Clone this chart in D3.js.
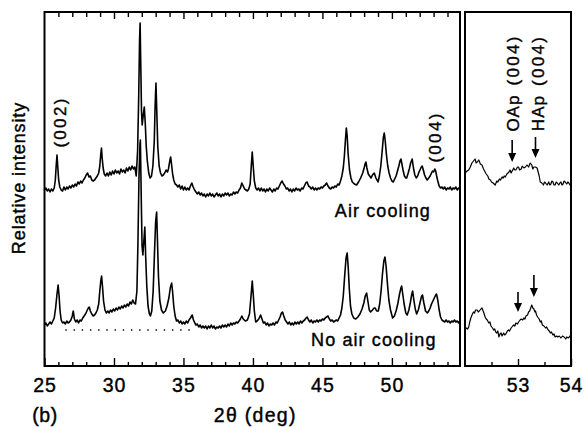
<!DOCTYPE html>
<html>
<head>
<meta charset="utf-8">
<script src="https://cdn.jsdelivr.net/npm/d3@7"></script>
<style>
  html, body { margin: 0; padding: 0; background: #fff; }
  svg { display: block; font-family: "Liberation Sans", Arial, Helvetica, sans-serif; }
  svg text { stroke: #000; stroke-width: 0.4px; paint-order: stroke; }
</style>
</head>
<body>
<svg id="chart" width="586" height="427"></svg>
<script>
// ---------- DATA (2θ in degrees, relative intensity in arbitrary units) ----------
const airCooling = [
[25.0,176],[25.1,178],[25.2,175],[25.3,177],[25.4,174],[25.5,177],[25.6,175],[25.7,178],[25.78,186],[25.84,200],[25.9,211],[25.96,198],[26.02,186],[26.1,179],[26.2,176],
[26.3,175],[26.4,179],[26.5,176],[26.6,179],[26.7,177],[26.8,180],[26.9,178],[27.0,181],[27.1,179],[27.2,182],[27.3,180],[27.4,184],[27.5,182],[27.6,185],[27.7,183],
[27.8,186],[27.9,188],[28.0,191],[28.1,193],[28.2,189],[28.3,190],[28.4,186],[28.5,185],[28.6,186],[28.7,188],[28.8,190],
[28.9,193],[28.98,200],[29.05,212],[29.1,218],[29.15,208],[29.22,198],[29.3,192],[29.4,190],
[29.5,193],[29.6,190],[29.7,194],[29.8,191],[29.9,195],[30.0,192],[30.1,196],[30.2,193],[30.3,195],[30.4,192],[30.5,197],[30.6,194],[30.7,196],[30.8,193],[30.9,198],[31.0,195],[31.1,199],[31.2,196],[31.3,200],[31.4,197],[31.5,199],[31.6,190],
[31.7,215],[31.78,270],[31.84,325],[31.88,343],[31.93,300],[31.98,255],[32.03,241],[32.1,250],[32.18,259],[32.25,243],[32.32,220],[32.4,205],[32.5,193],[32.6,188],[32.7,190],[32.8,200],[32.9,225],[32.96,260],[33.02,283],[33.08,255],[33.15,220],[33.25,200],[33.35,193],[33.45,190],[33.55,191],[33.65,193],[33.75,196],[33.85,194],[33.92,197],[33.98,202],[34.03,206],[34.08,209],[34.14,202],[34.22,192],[34.3,186],[34.4,182],[34.5,181],
[34.6,179],[34.7,181],[34.8,177],[34.9,180],[35.0,176],[35.1,179],[35.2,176],[35.3,178],[35.4,176],[35.5,180],[35.6,183],[35.7,179],[35.8,176],[35.9,174],
[36.0,172],[36.1,174],[36.2,171],[36.3,173],[36.4,170],[36.5,172],[36.6,169],[36.7,172],[36.8,170],[36.9,173],[37.0,170],[37.1,172],[37.2,169],[37.3,171],[37.4,173],[37.5,170],[37.6,172],[37.7,169],[37.8,172],[37.9,170],[38.0,173],[38.1,171],[38.2,173],[38.3,170],[38.4,172],[38.5,171],[38.6,174],[38.7,172],[38.8,174],[38.9,173],[39.0,176],
[39.1,178],[39.2,183],[39.3,180],[39.4,177],[39.5,176],[39.6,175],[39.7,177],
[39.8,182],[39.88,200],[39.95,214],[40.02,200],[40.1,185],[40.2,178],[40.3,176],
[40.4,178],[40.5,175],[40.6,178],[40.7,175],[40.8,177],[40.9,174],[41.0,177],[41.1,175],[41.2,178],[41.3,176],[41.4,174],[41.5,177],[41.6,175],[41.7,178],[41.8,177],[41.9,180],[42.0,183],[42.1,185],[42.2,182],[42.3,180],[42.4,177],[42.5,178],[42.6,175],[42.7,177],[42.8,174],[42.9,177],[43.0,175],[43.1,178],[43.2,176],[43.3,177],[43.4,175],[43.5,178],[43.6,177],[43.7,180],[43.8,183],[43.9,184],[44.0,180],[44.1,179],[44.2,177],[44.3,179],[44.4,176],[44.5,178],[44.6,176],[44.7,178],[44.8,177],[44.9,179],[45.0,178],[45.1,180],[45.2,181],[45.3,183],[45.4,180],[45.5,178],[45.6,177],[45.7,179],[45.8,178],[45.9,180],[46.0,179],[46.1,182],[46.2,181],[46.3,185],[46.4,190],[46.5,198],
[46.58,210],[46.65,225],[46.72,238],[46.78,230],[46.85,212],[46.95,196],[47.05,188],[47.15,184],[47.3,182],[47.46,181],[47.6,184],[47.75,188],[47.9,193],[48.0,198],[48.07,202],[48.13,204],[48.2,198],[48.3,192],[48.4,190],[48.5,188],[48.6,191],[48.73,193],[48.85,188],[49.0,184],[49.1,190],[49.2,200],[49.3,215],[49.38,228],[49.45,233],[49.52,225],[49.6,212],[49.7,200],[49.8,193],[49.9,188],[50.0,185],[50.1,184],[50.2,187],[50.3,190],[50.4,195],[50.5,200],[50.58,205],[50.65,207],[50.72,202],[50.8,196],[50.9,190],[51.0,188],[51.06,188],[51.15,192],[51.25,197],[51.35,203],[51.46,207],[51.55,198],[51.65,191],[51.75,188],[51.85,190],[51.95,194],[52.05,197],[52.12,199],[52.18,200],[52.26,196],[52.35,191],[52.45,188],[52.54,186],[52.65,188],[52.75,190],[52.85,193],[52.92,195],[53.0,194],[53.09,197],[53.15,195],[53.22,190],[53.3,185],[53.4,180],[53.5,178],[53.6,179],[53.7,177],[53.8,179],[53.9,176],[54.0,178],[54.1,177],[54.2,179],[54.3,176],[54.4,178],[54.5,177],[54.6,179],[54.7,176],[54.8,178],[54.9,177]
];

const noAirCooling = [
[25.0,41],[25.1,43],[25.2,40],[25.3,42],[25.4,44],[25.5,42],[25.6,45],[25.7,48],[25.8,58],[25.9,72],[25.98,81],[26.05,70],[26.12,55],[26.2,46],[26.3,43],[26.4,44],[26.5,42],[26.6,45],[26.7,43],[26.8,44],[26.9,46],[27.0,50],[27.07,55],[27.15,47],[27.25,44],[27.35,46],[27.45,43],[27.55,46],[27.65,45],[27.75,48],[27.85,50],[27.95,52],[28.05,55],[28.15,58],[28.22,59],[28.3,55],[28.4,52],[28.5,50],[28.6,51],[28.7,53],[28.8,56],[28.9,62],[28.98,75],[29.05,85],[29.11,90],[29.17,80],[29.25,65],[29.35,56],[29.45,53],
[29.55,55],[29.65,53],[29.75,56],[29.85,54],[29.95,57],[30.05,55],[30.15,58],[30.25,56],[30.35,59],[30.45,57],[30.55,60],[30.65,58],[30.75,61],[30.85,59],[30.95,62],[31.05,60],[31.15,64],[31.25,62],[31.35,66],[31.45,63],[31.55,62],[31.65,75],[31.72,120],[31.8,190],[31.87,222],[31.9,226],[31.96,170],[32.02,120],[32.08,111],[32.15,125],[32.22,139],[32.28,110],[32.36,80],[32.45,60],[32.55,52],[32.62,50],[32.72,55],[32.82,75],[32.92,115],[33.0,145],[33.07,154],[33.13,125],[33.2,90],[33.3,65],[33.42,56],[33.55,53],[33.7,55],[33.82,60],[33.95,68],[34.05,78],[34.15,83],[34.22,74],[34.3,60],[34.4,50],[34.5,45],
[34.6,46],[34.7,43],[34.8,45],[34.9,42],[35.0,44],[35.1,42],[35.2,45],[35.3,43],[35.4,46],[35.5,48],[35.63,51],[35.72,46],[35.82,43],[35.9,41],[36.0,42],[36.1,39],[36.2,41],[36.3,38],[36.4,40],[36.5,38],[36.6,40],[36.7,37],[36.8,40],[36.9,38],[37.0,41],[37.1,38],[37.2,40],[37.3,37],[37.4,39],[37.5,38],[37.6,40],[37.7,38],[37.8,41],[37.9,39],[38.0,41],[38.1,39],[38.2,42],[38.3,40],[38.4,43],[38.5,41],[38.6,43],[38.7,42],[38.8,44],[38.9,43],[39.0,45],[39.1,47],[39.2,50],[39.3,47],[39.45,45],[39.6,46],[39.75,52],[39.85,68],[39.95,85],[40.02,72],[40.1,55],[40.2,44],[40.3,45],[40.42,47],[40.55,51],[40.65,47],[40.75,43],[40.85,44],[40.95,41],[41.05,43],[41.15,40],[41.25,42],[41.35,41],[41.45,43],[41.55,41],[41.65,44],[41.75,43],[41.85,46],[41.95,49],[42.05,53],[42.13,54],[42.22,50],[42.32,46],[42.42,44],[42.52,42],[42.62,44],[42.72,41],[42.82,43],[42.92,41],[43.02,44],[43.12,42],[43.22,44],[43.32,42],[43.42,45],[43.52,43],[43.62,45],[43.72,46],[43.82,48],[43.9,49],[44.0,46],[44.1,44],[44.2,46],[44.3,43],[44.4,45],[44.5,44],[44.6,46],[44.7,44],[44.8,46],[44.9,45],[45.0,47],[45.1,46],[45.2,48],[45.3,49],[45.4,50],[45.5,47],[45.6,45],[45.7,46],[45.8,44],[45.9,45],[46.0,46],[46.1,45],[46.2,48],[46.3,51],[46.4,58],[46.5,70],[46.6,90],[46.7,108],[46.78,113],[46.85,100],[46.93,78],[47.02,60],[47.12,52],[47.25,48],[47.4,47],[47.55,49],[47.7,52],[47.85,57],[47.98,63],[48.08,70],[48.18,73],[48.27,65],[48.37,56],[48.47,54],[48.6,56],[48.72,58],[48.8,58],[48.9,55],[49.02,55],[49.12,62],[49.22,75],[49.32,92],[49.42,105],[49.5,109],[49.58,100],[49.68,82],[49.78,66],[49.9,56],[50.05,48],[50.18,50],[50.3,55],[50.42,62],[50.55,72],[50.65,78],[50.7,80],[50.78,72],[50.88,62],[51.0,53],[51.1,51],[51.22,56],[51.32,63],[51.42,71],[51.49,75],[51.58,66],[51.68,57],[51.78,52],[51.9,56],[52.02,63],[52.12,69],[52.2,71],[52.3,63],[52.42,55],[52.55,53],[52.65,55],[52.75,58],[52.85,62],[52.95,65],[53.05,68],[53.15,71],[53.21,72],[53.3,66],[53.4,56],[53.5,49],[53.6,46],[53.7,45],[53.8,44],[53.9,46],[54.0,44],[54.1,45],[54.2,43],[54.3,45],[54.4,44],[54.5,46],[54.6,44],[54.7,45],[54.8,43],[54.9,45]
];

const airCoolingZoom = [
[52.0,193],[52.04,195],[52.07,196],[52.1,199],[52.13,203],[52.16,205],[52.19,207],[52.21,203],[52.23,204],[52.26,206],[52.29,202],[52.32,201],[52.35,197],[52.38,194],[52.4,192],[52.43,190],[52.45,187],[52.48,186],[52.5,184],[52.53,183],[52.55,182],[52.57,181],[52.6,185],[52.62,184],[52.65,187],[52.67,186],[52.7,189],[52.72,188],[52.74,190],[52.76,189],[52.79,192],[52.81,193],[52.83,194],[52.85,196],[52.87,193],[52.89,195],[52.92,198],[52.94,196],[52.96,196],[52.99,199],[53.01,199],[53.03,196],[53.06,197],[53.08,200],[53.11,198],[53.14,199],[53.17,201],[53.2,199],[53.23,203],[53.26,201],[53.28,197],[53.3,199],[53.33,199],[53.36,198],[53.38,194],[53.4,190],[53.42,184],[53.45,183],[53.48,181],[53.5,184],[53.52,183],[53.55,181],[53.58,184],[53.6,181],[53.62,182],[53.64,185],[53.66,184],[53.68,181],[53.7,181],[53.72,184],[53.74,183],[53.77,181],[53.79,183],[53.81,184],[53.83,181],[53.85,182],[53.87,185],[53.89,184],[53.92,182],[53.94,184],[53.96,183],[53.98,181],[54.0,182]
];

const noAirCoolingZoom = [
[52.0,36],[52.03,38],[52.05,37],[52.07,39],[52.09,44],[52.11,48],[52.14,52],[52.16,54],[52.18,53],[52.2,56],[52.23,56],[52.25,54],[52.27,55],[52.3,57],[52.32,58],[52.35,54],[52.38,49],[52.4,47],[52.42,46],[52.45,43],[52.47,44],[52.49,40],[52.52,38],[52.54,36],[52.56,37],[52.58,34],[52.6,33],[52.62,35],[52.64,29],[52.66,32],[52.68,33],[52.7,30],[52.73,33],[52.75,31],[52.77,32],[52.8,35],[52.82,36],[52.84,35],[52.87,38],[52.9,40],[52.92,41],[52.94,40],[52.96,43],[52.99,42],[53.01,44],[53.04,46],[53.06,47],[53.09,46],[53.11,48],[53.13,47],[53.15,50],[53.18,51],[53.2,54],[53.22,55],[53.24,58],[53.26,61],[53.28,58],[53.3,57],[53.32,54],[53.33,55],[53.35,51],[53.37,49],[53.4,47],[53.42,44],[53.44,45],[53.46,41],[53.49,40],[53.52,38],[53.54,39],[53.57,36],[53.59,35],[53.61,33],[53.63,34],[53.66,31],[53.68,32],[53.7,29],[53.73,30],[53.75,29],[53.78,30],[53.81,28],[53.84,30],[53.87,29],[53.9,27],[53.92,29],[53.95,28],[53.98,30],[54.0,27]
];

// axis ticks and labels
const mainMajorTicks = [25, 30, 35, 40, 45, 50];
const mainMinorTicks = [26, 27, 28, 29, 31, 32, 33, 34, 36, 37, 38, 39, 41, 42, 43, 44, 46, 47, 48, 49, 51, 52, 53, 54];
const zoomMajorTicks = [53, 54];
const zoomMinorTicks = [52.5, 53.5];

// dotted reference baseline under the lower pattern: [start 2θ, end 2θ, level]
const dottedBaseline = [26.5, 35.8, 36];

// peak annotations (data coordinates)
const mainPeakLabels = [
  { text: "(002)", theta: 26.12, level: 244 },
  { text: "(004)", theta: 53.09, level: 229 }
];
const zoomPeakLabels = [
  { name: "OAp", hkl: "(004)", theta: 52.91, level: 283 },
  { name: "HAp", hkl: "(004)", theta: 53.38, level: 283 }
];
const zoomArrows = [
  { theta: 52.89, from: 226, to: 204 },
  { theta: 53.33, from: 229, to: 208 },
  { theta: 53.0, from: 74, to: 54 },
  { theta: 53.3, from: 91, to: 69 }
];
const seriesLabels = [
  { text: "Air cooling", theta: 49.35, level: 149 },
  { text: "No air cooling", theta: 48.7, level: 20 }
];

// ---------- DRAWING ----------
const svg = d3.select("#chart");
const x = d3.scaleLinear().domain([25, 54.9]).range([44.5, 460]);
const xz = d3.scaleLinear().domain([52, 54]).range([465, 571]);
const y = d3.scaleLinear().domain([0, 354]).range([366, 12]);

const [y0, y1] = y.range(); // bottom, top

// curves
const lineMain = d3.line().x(d => x(d[0])).y(d => y(d[1]));
const lineZoom = d3.line().x(d => xz(d[0])).y(d => y(d[1]));

[airCooling, noAirCooling].forEach(s => {
  svg.append("path").attr("d", lineMain(s))
    .attr("fill", "none").attr("stroke", "#000").attr("stroke-width", 1.6)
    .attr("stroke-linejoin", "round");
});
[airCoolingZoom, noAirCoolingZoom].forEach(s => {
  svg.append("path").attr("d", lineZoom(s))
    .attr("fill", "none").attr("stroke", "#000").attr("stroke-width", 1.2)
    .attr("stroke-linejoin", "round");
});

// dotted baseline
svg.append("line")
  .attr("x1", x(dottedBaseline[0])).attr("x2", x(dottedBaseline[1]))
  .attr("y1", y(dottedBaseline[2])).attr("y2", y(dottedBaseline[2]))
  .attr("stroke", "#000").attr("stroke-width", 1.4)
  .attr("stroke-dasharray", "1.4 6.8");

// frames
function frame(sc) {
  const [a, b] = sc.range();
  svg.append("rect").attr("x", a).attr("y", y1).attr("width", b - a).attr("height", y0 - y1)
    .attr("fill", "none").attr("stroke", "#000").attr("stroke-width", 2);
}
frame(x); frame(xz);

const fontTick = { size: "19.5px", spacing: "1px" };

function styleAxis(g, withText) {
  g.select(".domain").remove();
  g.selectAll(".tick line").attr("stroke", "#000").attr("stroke-width", 1.4);
  g.selectAll(".tick text").attr("fill", "#000")
    .style("font-size", fontTick.size).style("letter-spacing", fontTick.spacing)
    .style("font-family", '"Liberation Sans", Arial, sans-serif');
  if (!withText) g.selectAll(".tick text").remove();
}

// main panel bottom
svg.append("g").attr("transform", `translate(0,${y0})`)
  .call(d3.axisBottom(x).tickValues(mainMajorTicks).tickSize(-8).tickPadding(12).tickFormat(d3.format("d")))
  .call(g => styleAxis(g, true));
svg.append("g").attr("transform", `translate(0,${y0})`)
  .call(d3.axisBottom(x).tickValues(mainMinorTicks).tickSize(-4).tickFormat(""))
  .call(g => styleAxis(g, false));
// main panel top
svg.append("g").attr("transform", `translate(0,${y1})`)
  .call(d3.axisTop(x).tickValues(mainMajorTicks.filter(d => d > 25)).tickSize(-7).tickFormat(""))
  .call(g => styleAxis(g, false));
svg.append("g").attr("transform", `translate(0,${y1})`)
  .call(d3.axisTop(x).tickValues(mainMinorTicks).tickSize(-5).tickFormat(""))
  .call(g => styleAxis(g, false));
// zoom panel bottom
svg.append("g").attr("transform", `translate(0,${y0})`)
  .call(d3.axisBottom(xz).tickValues(zoomMajorTicks).tickSize(-7).tickPadding(12).tickFormat(d3.format("d")))
  .call(g => styleAxis(g, true));
svg.append("g").attr("transform", `translate(0,${y0})`)
  .call(d3.axisBottom(xz).tickValues(zoomMinorTicks).tickSize(-4).tickFormat(""))
  .call(g => styleAxis(g, false));

// text helpers
const txt = (sel) => sel.attr("fill", "#000").style("font-family", '"Liberation Sans", Arial, sans-serif');

// axis titles
txt(svg.append("text")).attr("x", (x.range()[0] + x.range()[1]) / 2 + 3).attr("y", 422)
  .attr("text-anchor", "middle").style("font-size", "19.5px").style("letter-spacing", "1.3px")
  .text("2θ (deg)");
txt(svg.append("text")).attr("x", 45).attr("y", 422)
  .attr("text-anchor", "middle").style("font-size", "19.5px").style("letter-spacing", "0.5px")
  .text("(b)");
txt(svg.append("text")).attr("transform", "translate(25,178) rotate(-90)")
  .attr("text-anchor", "middle").style("font-size", "18px").style("letter-spacing", "0.9px")
  .text("Relative intensity");

// series labels
seriesLabels.forEach(l => {
  txt(svg.append("text")).attr("x", x(l.theta)).attr("y", y(l.level))
    .attr("text-anchor", "middle").style("font-size", "18px").style("letter-spacing", "1.1px")
    .text(l.text);
});

// peak labels (rotated)
mainPeakLabels.forEach(l => {
  txt(svg.append("text"))
    .attr("transform", `translate(${x(l.theta)},${y(l.level)}) rotate(-90)`)
    .attr("text-anchor", "middle").attr("dy", "0.36em")
    .style("font-size", "17px").style("letter-spacing", "2.3px")
    .text(l.text);
});
zoomPeakLabels.forEach(l => {
  const t = txt(svg.append("text"))
    .attr("transform", `translate(${xz(l.theta)},${y(l.level)}) rotate(-90)`)
    .attr("text-anchor", "middle").attr("dy", "0.36em")
    .style("font-size", "17px");
  t.append("tspan").style("letter-spacing", "1px").text(l.name);
  t.append("tspan").attr("dx", 9).style("letter-spacing", "2.3px").text(l.hkl);
});

// arrows
zoomArrows.forEach(a => {
  const ax = xz(a.theta), ya = y(a.from), yb = y(a.to);
  svg.append("line").attr("x1", ax).attr("x2", ax).attr("y1", ya).attr("y2", yb - 7)
    .attr("stroke", "#000").attr("stroke-width", 1.6);
  svg.append("path")
    .attr("d", `M${ax - 4},${yb - 9} L${ax + 4},${yb - 9} L${ax},${yb} Z`)
    .attr("fill", "#000");
});
</script>
</body>
</html>
